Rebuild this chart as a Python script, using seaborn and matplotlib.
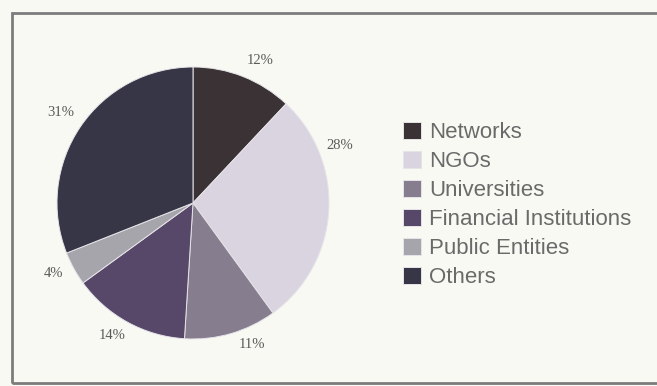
import numpy as np
import matplotlib
matplotlib.use("Agg")
import matplotlib.pyplot as plt
from matplotlib.patches import Rectangle
import seaborn as sns

# Partner types and their shares (%)
categories = ["Networks", "NGOs", "Universities", "Financial Institutions",
              "Public Entities", "Others"]
shares = [12, 28, 11, 14, 4, 31]
pct_labels = ["12%", "28%", "11%", "14%", "4%", "31%"]

sns.set_theme(style="white")
plt.rcParams["font.family"] = ["Liberation Sans", "DejaVu Sans"]

colors = sns.color_palette(["#3a3234", "#dad4e0", "#867d8e",
                            "#57486a", "#a6a5ab", "#363647"])

W, H = 657, 386
fig = plt.figure(figsize=(W / 100, H / 100), dpi=100)
fig.patch.set_facecolor("#f9f9f4")

# pie centre and radius in pixels
cx, cy, r = 193, 203, 136
ax = fig.add_axes([(cx - r) / W, (H - cy - r) / H, 2 * r / W, 2 * r / H])
ax.set_facecolor("none")

wedges, _ = ax.pie(shares, colors=colors, startangle=90, counterclock=False,
                   radius=1.0,
                   wedgeprops=dict(edgecolor="#e6e4e8", linewidth=0.7))
ax.set_xlim(-1, 1)
ax.set_ylim(-1, 1)
ax.set_aspect("equal")
ax.axis("off")

# percentage labels placed outside each wedge
angle_shift = [-3.5, 25, 6.5, -2.7, -2.2, 0]
label_dist = [1.16, 1.16, 1.13, 1.14, 1.15, 1.18]
for w, lab, shift, d in zip(wedges, pct_labels, angle_shift, label_dist):
    mid = np.deg2rad((w.theta1 + w.theta2) / 2 + shift)
    ax.text(d * np.cos(mid), d * np.sin(mid), lab, ha="center", va="center",
            fontsize=10.5, color="#5a5a5a", family=["Liberation Serif"])

# legend
leg = fig.legend(wedges, categories, loc="upper left",
                 bbox_to_anchor=(403 / W, 1 - 122 / H),
                 frameon=False, fontsize=16, handlelength=0.8,
                 handleheight=0.8, handletextpad=0.36, labelspacing=0.35,
                 borderaxespad=0, borderpad=0)
for t in leg.get_texts():
    t.set_color("#6a6a6a")

# surrounding frame
fig.patches.append(Rectangle((12 / W, 3 / H), 1.1, (383 - 13) / H,
                             transform=fig.transFigure, fill=False,
                             edgecolor="#7c7c7c", linewidth=2))

fig.savefig("out.png", dpi=100, facecolor=fig.get_facecolor())
